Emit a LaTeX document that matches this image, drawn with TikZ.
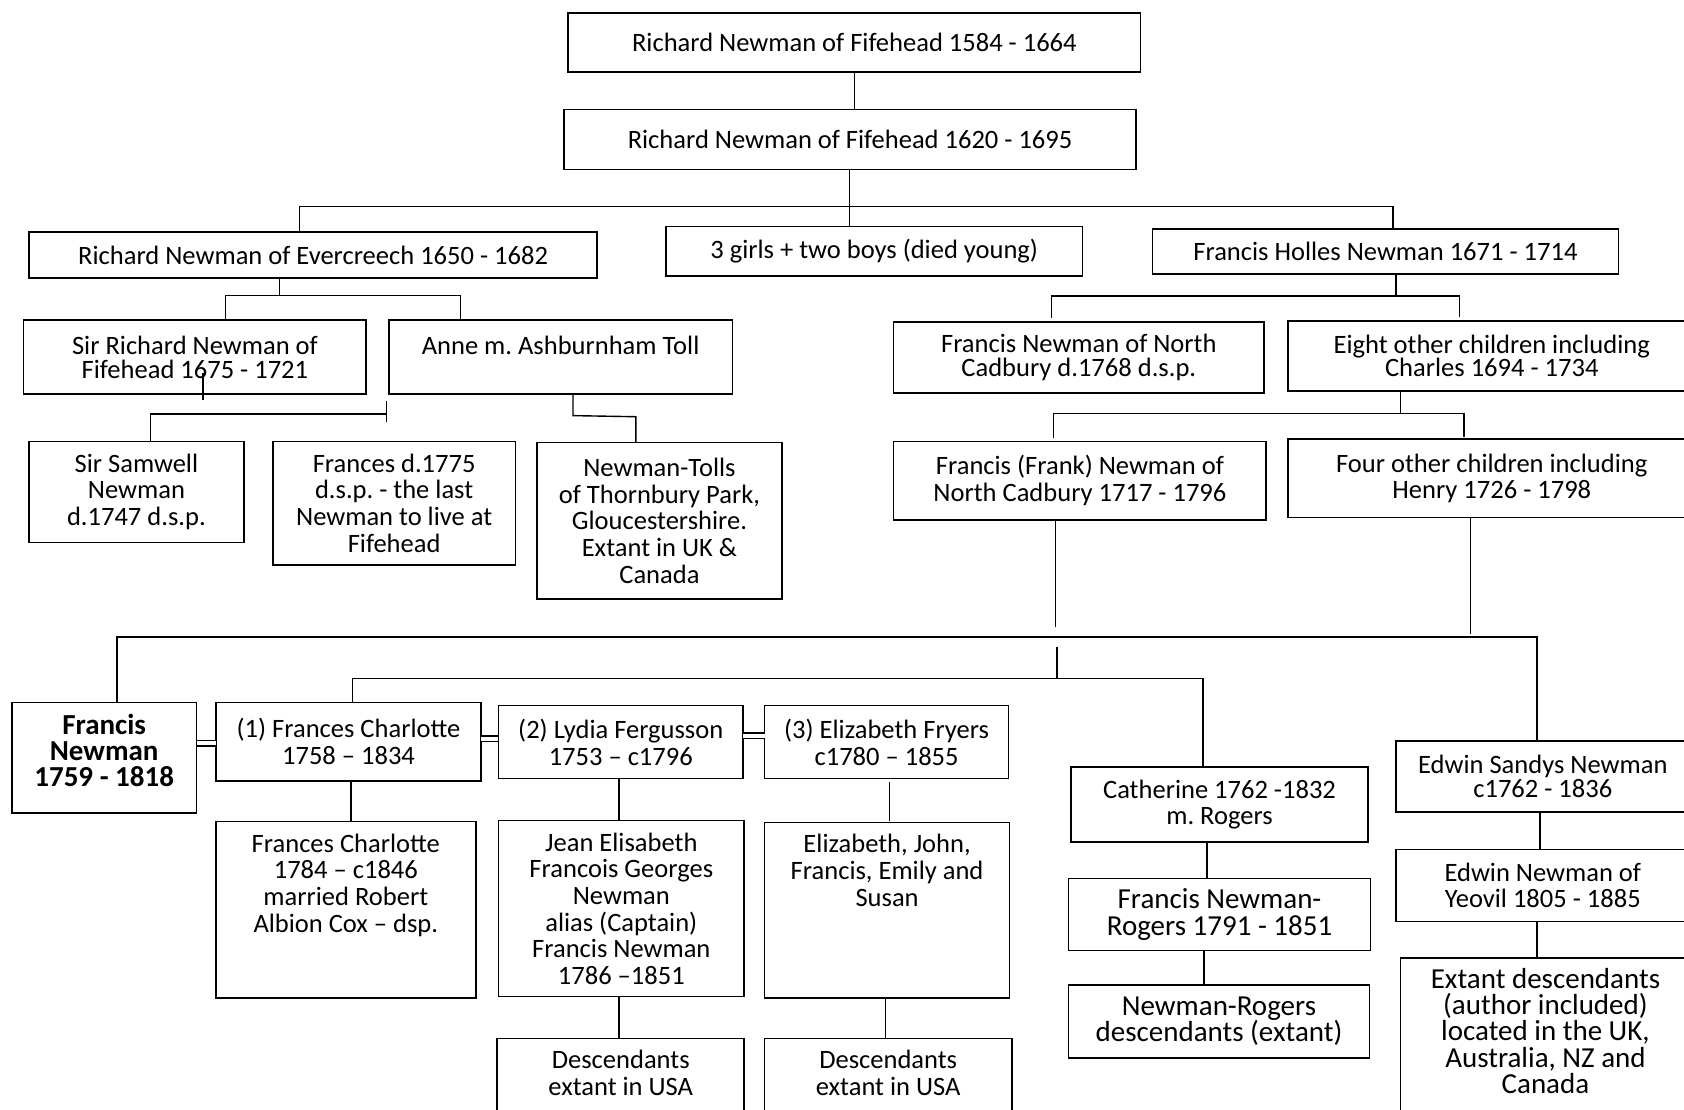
\documentclass[tikz,border=0pt]{standalone}
\usepackage{fontspec}
\setmainfont{Carlito}
\usetikzlibrary{positioning,calc}
\frenchspacing

\begin{document}
\begin{tikzpicture}[x=1pt, y=-1pt,
  person/.style={draw, rectangle, line width=1.5pt, align=center, inner sep=2pt, outer sep=0pt, font=\fontsize{24.7}{24.8}\selectfont},
  tight/.style={font=\fontsize{24.7}{22}\selectfont},
  big/.style={font=\fontsize{27}{24.4}\selectfont},
  link/.style={line width=1.3pt},
  marry/.style={line width=1.4pt, double distance=3.8pt}]

\fill[white] (0,0) rectangle (1568,1033);
\useasboundingbox (0,0) rectangle (1568,1033);

\node[person, minimum width=533pt, minimum height=55pt] (rich1) at (795.5,39.5) {Richard Newman of Fifehead 1584 - 1664};
\node[person, minimum width=533pt, minimum height=56pt] (rich2) at (791.5,130) {Richard Newman of Fifehead 1620 - 1695};

\node[person, minimum width=529pt, minimum height=43pt] (everc) at (291.5,237.5) {Richard Newman of Evercreech 1650 - 1682};
\node[person, minimum width=388pt, minimum height=46pt] (young) at (814,234) {3 girls + two boys (died young)};
\node[person, minimum width=434pt, minimum height=42pt] (holles) at (1290,234) {Francis Holles Newman 1671 - 1714};

\node[person, tight, minimum width=319pt, minimum height=69pt] (sirrich) at (181.5,332.5) {Sir Richard Newman of\\Fifehead 1675 - 1721};
\node[person, tight, minimum width=320pt, minimum height=69pt] (anne) at (522,332.5) {Anne m. Ashburnham Toll\\\mbox{}};
\node[person, tight, minimum width=345pt, minimum height=66pt] (cadb) at (1004.5,333) {Francis Newman of North\\Cadbury d.1768 d.s.p.};
\node[person, tight, minimum width=380pt, minimum height=65pt] (eight) at (1389,331.5) {Eight other children including\\Charles 1694 - 1734};

\node[person, minimum width=200pt, minimum height=94pt] (samw) at (127,458) {Sir Samwell\\Newman\\d.1747 d.s.p.};
\node[person, minimum width=226pt, minimum height=115pt] (frances) at (367,468.5) {Frances d.1775\\d.s.p. - the last\\Newman to live at\\Fifehead};
\node[person, minimum width=228pt, minimum height=146pt] (tolls) at (614,485) {Newman-Tolls\\of Thornbury Park,\\Gloucestershire.\\Extant in UK \&\\Canada};
\node[person, minimum width=347pt, minimum height=73pt] (frank) at (1005.5,447.5) {Francis (Frank) Newman of\\North Cadbury 1717 - 1796};
\node[person, minimum width=380pt, minimum height=73pt] (four) at (1389,445.5) {Four other children including\\Henry 1726 - 1798};

\node[person, font=\fontsize{27}{24.5}\selectfont\bfseries, minimum width=172pt, minimum height=103pt] (francis) at (97,705.5) {Francis\\Newman\\1759 - 1818\\[-11pt]\mbox{}};
\node[person, minimum width=247pt, minimum height=73pt] (wife1) at (324.5,690.5) {(1) Frances Charlotte\\1758 – 1834};
\node[person, minimum width=228pt, minimum height=68pt] (wife2) at (578,691) {(2) Lydia Fergusson\\1753 – c1796};
\node[person, minimum width=227pt, minimum height=68pt] (wife3) at (825.5,691) {(3) Elizabeth Fryers\\c1780 – 1855};
\node[person, minimum width=277pt, minimum height=70pt] (cath) at (1135.5,749) {Catherine 1762 -1832\\m. Rogers};
\node[person, tight, minimum width=273pt, minimum height=66pt] (edwins) at (1436.5,723) {Edwin Sandys Newman\\c1762 - 1836};

\node[person, minimum width=242pt, minimum height=164pt] (fchar) at (322,847) {Frances Charlotte\\1784 – c1846\\married Robert\\Albion Cox – dsp.\\\mbox{}\\\mbox{}};
\node[person, minimum width=229pt, minimum height=164pt] (jean) at (578.5,846) {Jean Elisabeth\\Francois Georges\\Newman\\alias (Captain)\\Francis Newman\\1786 –1851};
\node[person, minimum width=228pt, minimum height=163pt] (eliz) at (826,847.5) {Elizabeth, John,\\Francis, Emily and\\Susan\\\mbox{}\\\mbox{}\\\mbox{}};
\node[person, big, minimum width=281pt, minimum height=67pt] (nrog) at (1135.5,851.5) {Francis Newman-\\Rogers 1791 - 1851};
\node[person, big, minimum width=280pt, minimum height=68pt] (nrogd) at (1135,951) {Newman-Rogers\\descendants (extant)};
\node[person, minimum width=273pt, minimum height=67pt] (edwin) at (1436.5,824.5) {Edwin Newman of\\Yeovil 1805 - 1885};
\node[person, big, minimum width=270pt, minimum height=144pt] (extant) at (1439,964) {Extant descendants\\(author included)\\located in the UK,\\Australia, NZ and\\Canada\\[-16pt]\mbox{}};

\node[person, minimum width=230pt, minimum height=71pt] (usa1) at (578,1002.5) {Descendants\\extant in USA\\[-18pt]\mbox{}};
\node[person, minimum width=230pt, minimum height=71pt] (usa2) at (827,1002.5) {Descendants\\extant in USA\\[-18pt]\mbox{}};

\draw[link] (rich1.south) -- (rich1.south |- rich2.north);
\coordinate (bus3) at (791,192);
\draw[link] (bus3 |- rich2.south) -- (bus3 |- young.north);
\draw[link] ([xshift=-12.5pt]everc.north) |- (bus3) -| ([xshift=7pt]holles.north);

\coordinate (bus4) at (260,275);
\draw[link] (bus4 |- everc.south) -- (bus4);
\draw[link] ([xshift=28.5pt]sirrich.north) |- (bus4) -| ([xshift=-93pt]anne.north);

\coordinate (bus5) at (360,385.5);
\draw[link] ([xshift=7.5pt,yshift=20pt]sirrich.south) -- ++(0,25);
\draw[link] ([xshift=13pt]samw.north) |- (bus5);
\draw[link] ([yshift=12.5pt]bus5) -- ([yshift=-7.5pt]bus5);
\draw[link] ([xshift=11.5pt]anne.south) -- ++(0,20) -- ([xshift=-22pt,yshift=24pt]tolls.north) -- ([xshift=-22pt]tolls.north);

\coordinate (bus6) at (1300,275.5);
\draw[link] (bus6 |- holles.south) -- (bus6);
\draw[link] ([xshift=-25.5pt,yshift=4pt]cadb.north) |- (bus6) -| ([xshift=-30pt,yshift=4pt]eight.north);

\coordinate (bus7) at (1304,385);
\draw[link] (bus7 |- eight.south) -- (bus7);
\draw[link] ([xshift=-24.5pt,yshift=3pt]frank.north) |- (bus7) -| ([xshift=-26pt,yshift=2pt]four.north);

\draw[link] ([xshift=-22.5pt]frank.south) -- ++(0,100);
\draw[link] ([xshift=-20pt]four.south) -- ++(0,108);

\coordinate (bus8) at (1431,593);
\draw[link] ([xshift=12pt]francis.north) |- (bus8) -- (bus8 |- edwins.north);

\coordinate (bus9) at (984,632);
\draw[link] (bus9) -- ++(0,-30);
\draw[link] ([xshift=3.5pt]wife1.north) |- (bus9) -| ([xshift=-15.5pt]cath.north);

\draw[marry] ([yshift=13.5pt]francis.east) -- ([yshift=13.5pt]francis.east -| wife1.west);
\draw[marry] ([yshift=2.5pt]wife1.east) -- ([yshift=2.5pt]wife1.east -| wife2.west);
\draw[marry] ([yshift=6pt]wife2.east) -- ([yshift=6pt]wife2.east -| wife3.west);

\draw[link] ([xshift=2.5pt]wife1.south) -- ([xshift=2.5pt]wife1.south |- fchar.north);
\draw[link] ([xshift=-1.5pt]wife2.south) -- ([xshift=-1.5pt]wife2.south |- jean.north);
\draw[link] ([xshift=2.5pt,yshift=-3pt]wife3.south) -- ([xshift=2.5pt,yshift=2pt]wife3.south |- eliz.north);
\draw[link] ([xshift=-11.5pt]cath.south) -- ([xshift=-11.5pt]cath.south |- nrog.north);
\draw[link] ([xshift=-14.5pt]nrog.south) -- ([xshift=-14.5pt]nrog.south |- nrogd.north);
\draw[link] ([xshift=-2.5pt]edwins.south) -- ([xshift=-2.5pt]edwins.south |- edwin.north);
\draw[link] ([xshift=-5.5pt]edwin.south) -- ([xshift=-5.5pt]edwin.south |- extant.north);
\draw[link] ([xshift=-2pt]jean.south) -- ([xshift=-2pt]jean.south |- usa1.north);
\draw[link] ([xshift=-1.5pt]eliz.south) -- ([xshift=-1.5pt]eliz.south |- usa2.north);
\end{tikzpicture}
\end{document}
